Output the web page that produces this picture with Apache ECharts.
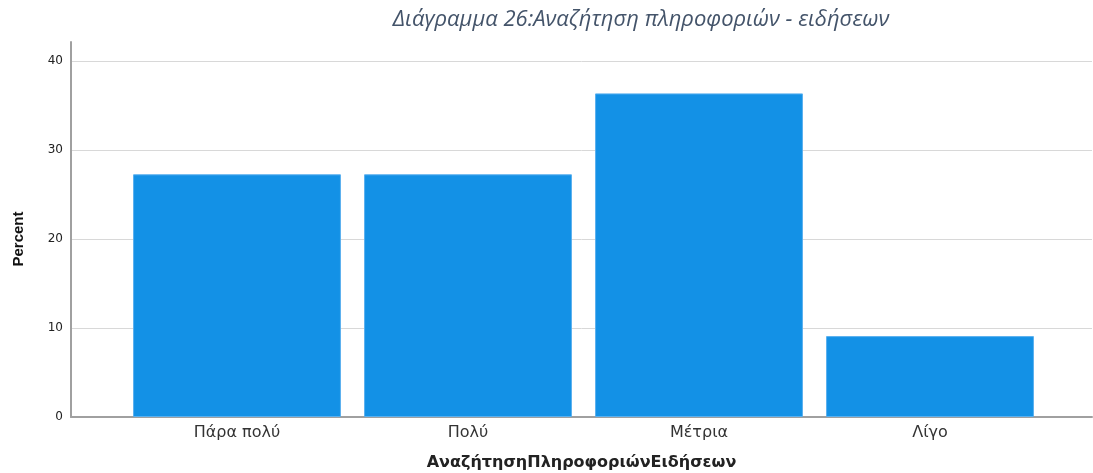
<!DOCTYPE html>
<html>
<head>
<meta charset="utf-8">
<script src="https://cdn.jsdelivr.net/npm/echarts@6/dist/echarts.min.js"></script>
<style>html,body{margin:0;padding:0;background:#fff}#c{width:1093px;height:473px}</style>
</head>
<body>
<div id="c"></div>
<script>
const categories = ['Πάρα πολύ', 'Πολύ', 'Μέτρια', 'Λίγο'];
const percentValues = [27.27, 27.27, 36.36, 9.09];
const yTicks = [0, 10, 20, 30, 40];
const titleText = 'Διάγραμμα 26:Αναζήτηση πληροφοριών - ειδήσεων';
const xTitle = 'ΑναζήτησηΠληροφοριώνΕιδήσεων';
const yTitle = 'Percent';

const chart = echarts.init(document.getElementById('c'), null, {renderer: 'canvas'});
const yMin = yTicks[0], yMax = yTicks[yTicks.length - 1], yStep = yTicks[1] - yTicks[0];
chart.setOption({
  animation: false,
  backgroundColor: '#fff',
  title: {
    text: titleText, left: 636, top: 4, textAlign: 'center',
    textStyle: {fontFamily: 'Open Sans', fontStyle: 'italic', fontWeight: 'normal', fontSize: 22, color: '#44546a'}
  },
  grid: [
    {left: 71, right: 1, top: 61, bottom: 56, outerBoundsMode: 'none', containLabel: false},
    {left: 71, right: 1, top: 42, bottom: 56, outerBoundsMode: 'none', containLabel: false},
    {left: 121.5, right: 47.5, top: 61, bottom: 56, outerBoundsMode: 'none', containLabel: false}
  ],
  xAxis: [
    {gridIndex: 0, type: 'value', min: 0, max: 1, show: true,
     axisLine: {show: true, onZero: false, lineStyle: {color: '#a0a0a0', width: 2}},
     axisTick: {show: false}, axisLabel: {show: false}, splitLine: {show: false},
     name: xTitle, nameLocation: 'middle', nameGap: 38,
     nameTextStyle: {fontFamily: 'DejaVu Sans', fontWeight: 'bold', fontSize: 16, color: '#222'}},
    {gridIndex: 1, type: 'value', min: 0, max: 1, show: false},
    {gridIndex: 2, type: 'category', data: categories,
     axisLine: {show: false}, axisTick: {show: false},
     axisLabel: {margin: 8, fontFamily: 'DejaVu Sans', fontSize: 16, color: '#333'}}
  ],
  yAxis: [
    {gridIndex: 0, type: 'value', min: yMin, max: yMax, interval: yStep,
     axisLine: {show: false}, axisTick: {show: false},
     axisLabel: {margin: 8, fontFamily: 'DejaVu Sans', fontSize: 12, color: '#222'},
     splitLine: {show: true, lineStyle: {color: '#d8d8d8', width: 1}},
     name: yTitle, nameLocation: 'middle', nameGap: 45, nameRotate: 90,
     nameTextStyle: {fontFamily: 'Liberation Sans', fontWeight: 'bold', fontSize: 15, color: '#111'}},
    {gridIndex: 1, type: 'value', min: 0, max: 1,
     axisLine: {show: true, lineStyle: {color: '#a0a0a0', width: 2}},
     axisTick: {show: false}, axisLabel: {show: false}, splitLine: {show: false}},
    {gridIndex: 2, type: 'value', min: yMin, max: yMax, show: false}
  ],
  series: [{
    type: 'bar', xAxisIndex: 2, yAxisIndex: 2, data: percentValues,
    barCategoryGap: '10%',
    itemStyle: {color: '#1391e6', borderColor: '#5ab0ef', borderWidth: 1}
  }]
});
</script>
</body>
</html>
